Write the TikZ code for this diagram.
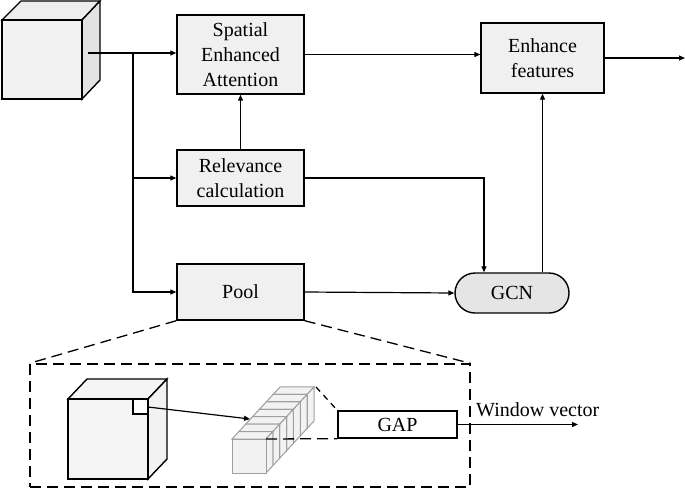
\documentclass[tikz,border=0pt]{standalone}
\usepackage{fontspec}
\setmainfont{Liberation Serif}
\usetikzlibrary{arrows.meta}
\begin{document}
\begin{tikzpicture}[x=1pt,y=-1pt,
  every node/.style={font=\fontsize{20}{25}\selectfont, align=center, inner sep=0pt},
  blk/.style={draw, line width=1.4pt, fill=gray!12},
  arr/.style={line width=1.2pt, -{Triangle[length=6pt,width=5pt]}},
  con/.style={line width=1.2pt},
  dsh/.style={line width=1.3pt, dash pattern=on 11pt off 6pt},
  cubeedge/.style={line width=1.4pt, draw=black},
  slab/.style={line width=1pt, draw=gray!75, fill=gray!10}]
\useasboundingbox (0,0) rectangle (685,488);

% input cube
\filldraw[cubeedge, fill=gray!14] (2,20) -- (21,1) -- (100,1) -- (82,20) -- cycle;
\filldraw[cubeedge, fill=gray!22] (82,20) -- (100,1) -- (100,80) -- (82,99) -- cycle;
\filldraw[cubeedge, fill=gray!10] (2,20) rectangle (82,99);
\coordinate (in) at (88,53);
\coordinate (br) at (133,53);

% main blocks
\node[blk, minimum width=127pt, minimum height=79pt] (sea) at (240.5,54.5) {Spatial\\Enhanced\\Attention};
\node[blk, minimum width=127pt, minimum height=56pt] (rel) at (240.5,178) {Relevance\\calculation};
\node[blk, minimum width=127pt, minimum height=56pt] (pool) at (240.5,292) {Pool};
\node[blk, minimum width=123pt, minimum height=70pt] (enh) at (542.5,58) {Enhance\\features};
\node[blk, fill=gray!20, minimum width=114pt, minimum height=40pt, rounded corners=20pt] (gcn) at (512,293) {GCN};
\coordinate (out) at (685,58);

% connectors
\draw[arr] (in) -- (in -| sea.west);
\draw[arr] (br) |- (rel.west);
\draw[arr] (br) |- (pool.west);
\draw[arr] (rel.north) -- (sea.south);
\draw[arr] (sea.east) -- (sea.east -| enh.west);
\draw[arr] (rel.east) -| ([xshift=-28pt]gcn.north);
\draw[arr] (pool.east) -- (gcn.west);
\draw[arr] (enh.south |- gcn.north) -- (enh.south);
\draw[arr] (enh.east) -- (out);

% zoom box
\node[dsh, draw, minimum width=440pt, minimum height=123pt] (zbox) at (250,425.5) {};
\draw[dsh] (pool.south west) -- (zbox.north west);
\draw[dsh] (pool.south east) -- (zbox.north east);

% inner cube
\filldraw[cubeedge, fill=gray!8] (68,399) -- (87,379) -- (167,379) -- (148,399) -- cycle;
\filldraw[cubeedge, fill=gray!10] (148,399) -- (167,379) -- (167,459) -- (148,479) -- cycle;
\filldraw[cubeedge, fill=gray!8] (68,399) rectangle (148,479);
\filldraw[cubeedge, fill=white] (133,399) rectangle (148,414);
\coordinate (win) at (148,407);

% stack of slabs
\foreach \i in {6,5,...,0} {
  \begin{scope}[shift={(\i*6.857,-\i*7.43)}]
    \filldraw[slab] (232,439) -- (238.857,431.57) -- (272.857,431.57) -- (266,439) -- cycle;
    \filldraw[slab] (266,439) -- (272.857,431.57) -- (272.857,465.57) -- (266,473) -- cycle;
    \filldraw[slab] (232,439) rectangle (266,473);
  \end{scope}
}
\coordinate (stk) at (250,419);
\coordinate (stktop) at (316,387);
\coordinate (stkbot) at (266,439);
\draw[arr] (win) -- (stk);

% GAP
\node[draw, line width=1.3pt, fill=white, minimum width=119pt, minimum height=27pt] (gap) at (397.5,424.5) {GAP};
\draw[dsh, dash pattern=on 6pt off 5pt] (stktop) -- (gap.north west);
\draw[dsh] (stkbot) -- (gap.south west);
\coordinate (wv) at (578,424.5);
\draw[arr] (gap.east) -- (wv);
\node[anchor=south west] (wvl) at (476,417) {Window vector};
\end{tikzpicture}
\end{document}
